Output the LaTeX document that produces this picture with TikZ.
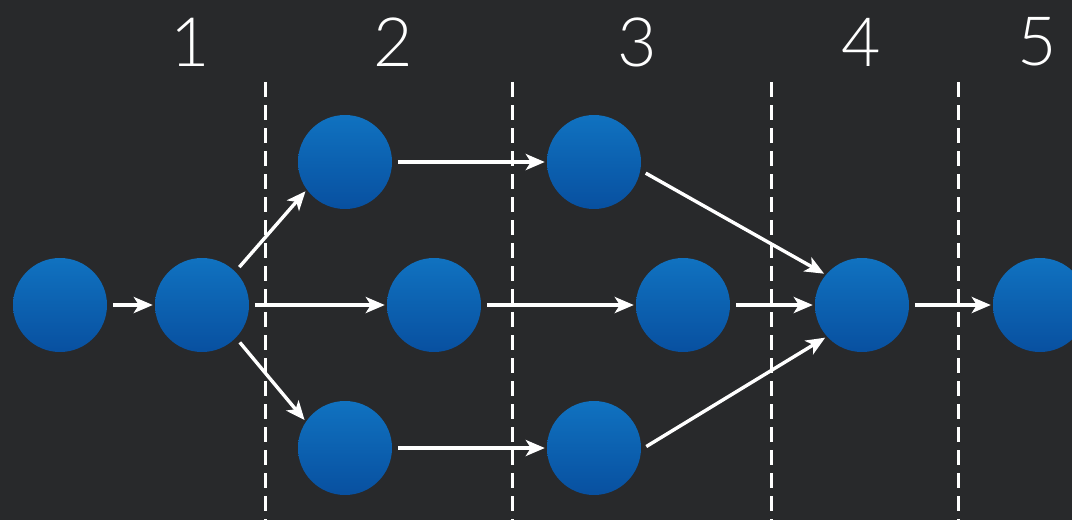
\documentclass[tikz,border=0pt]{standalone}
\usepackage{fontspec}
\newfontfamily\stagefont{Lato Light}
\usetikzlibrary{arrows.meta}
\definecolor{plateBg}{RGB}{40,41,43}
\definecolor{blobTop}{RGB}{16,114,192}
\definecolor{blobBot}{RGB}{8,80,160}
\begin{document}
\begin{tikzpicture}[x=1pt,y=-1pt,
  blob/.style={circle,minimum size=94pt,inner sep=0pt,top color=blobTop,bottom color=blobBot,draw=none},
  flow/.style={white,line width=3.4pt,-{Stealth[length=19pt,width=16pt,inset=5pt]},shorten <=6pt,shorten >=2pt},
  cut/.style={white,line width=3pt,dash pattern=on 15pt off 8pt},
  stagenum/.style={white,font=\stagefont\fontsize{68}{68}\selectfont,inner sep=0pt}]
\fill[plateBg] (0,0) rectangle (1072,520);
\useasboundingbox (0,0) rectangle (1072,520);
\begin{scope}
\clip (0,0) rectangle (1072,520);
\foreach \cx in {265,512,771,958}
  \draw[cut] (\cx,82) -- (\cx,520);
\node[blob] (a) at (60,305) {};
\node[blob] (b) at (202,305) {};
\node[blob] (c) at (345,162) {};
\node[blob] (d) at (434,305) {};
\node[blob] (e) at (345,448) {};
\node[blob] (f) at (594,162) {};
\node[blob] (g) at (683,305) {};
\node[blob] (h) at (594,448) {};
\node[blob] (i) at (862,305) {};
\node[blob] (j) at (1040,305) {};
\end{scope}
\draw[flow] (a) -- (b);
\draw[flow] (b.45) -- (c.216);
\draw[flow] (b) -- (d);
\draw[flow] (b.-44) -- (e.146);
\draw[flow] (c) -- (f);
\draw[flow] (d) -- (g);
\draw[flow] (e) -- (h);
\draw[flow] (f.-10) -- (i.140);
\draw[flow] (g) -- (i);
\draw[flow] (h.-2) -- (i.-138);
\draw[flow] (i) -- (j);
\node[stagenum] (n1) at (190,42) {1};
\node[stagenum] (n2) at (393,42) {2};
\node[stagenum] (n3) at (637,42) {3};
\node[stagenum] (n4) at (861,42) {4};
\node[stagenum] (n5) at (1037,42) {5};
\end{tikzpicture}
\end{document}
